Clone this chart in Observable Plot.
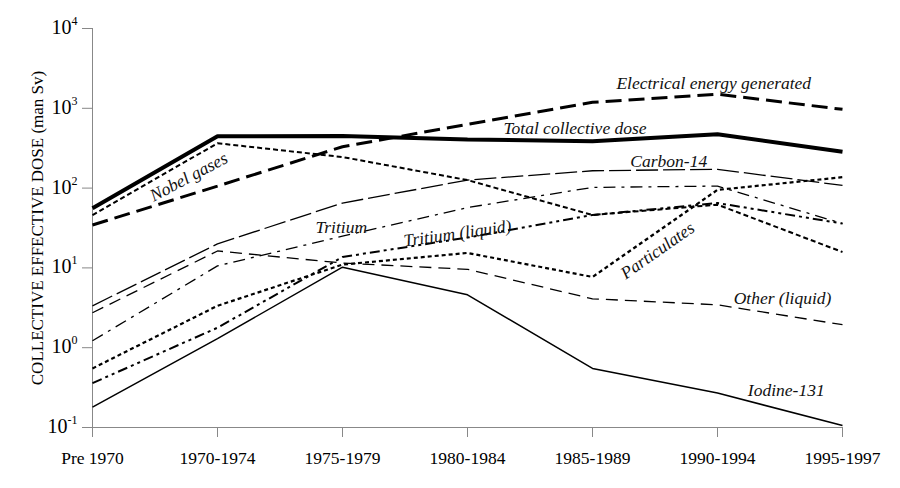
<!DOCTYPE html>
<html><head><meta charset="utf-8">
<script src="https://cdn.jsdelivr.net/npm/d3@7"></script>
<script src="https://cdn.jsdelivr.net/npm/@observablehq/plot@0.6"></script>
<style>
body{margin:0;background:#fff;}
#chart svg, #chart svg text, #chart svg tspan { font-family: "Liberation Serif", "Times New Roman", serif !important; }
</style>
</head><body><div id="chart"></div>
<script>
const periods = ["Pre 1970","1970-1974","1975-1979","1980-1984","1985-1989","1990-1994","1995-1997"];
const totalDose        = [56, 447, 450, 407, 386, 473, 285];
const electricalEnergy = [34.5, 106, 330, 630, 1190, 1500, 970];
const nobelGases       = [46, 365, 245, 126, 46, 62, 15.8];
const carbon14         = [3.35, 20, 65, 126, 165, 172, 108];
const otherLiquid      = [2.74, 16.3, 11.5, 9.6, 4.1, 3.45, 1.94];
const tritium          = [1.22, 10.6, 25, 57, 102, 106, 36];
const tritiumLiquid    = [0.36, 1.78, 13.7, 24, 46, 65, 36];
const particulates     = [0.55, 3.35, 11, 15.4, 7.7, 95, 137];
const iodine131        = [0.18, 1.3, 10.2, 4.6, 0.55, 0.27, 0.106];
const yTicks = [0.1, 1, 10, 100, 1000, 10000];

const labelNames = ["Electrical energy generated","Total collective dose","Carbon-14","Nobel gases","Tritium","Tritium (liquid)","Particulates","Other (liquid)","Iodine-131"];
const labelX     = [4.97, 3.86, 4.61, 0.77, 1.99, 2.92, 4.52, 5.52, 5.55];
const labelY     = [2050, 560, 215, 138, 32, 27, 16.5, 4.2, 0.29];
const labelAngle = [0, 0, 0, -28, 0, -8, -35, 0, 0];

const seriesDefs = [
  {name: "Total collective dose", values: totalDose, width: 4, dash: null},
  {name: "Electrical energy generated", values: electricalEnergy, width: 3, dash: "16,7"},
  {name: "Nobel gases", values: nobelGases, width: 2, dash: "5,3"},
  {name: "Carbon-14", values: carbon14, width: 1.3, dash: "22,5"},
  {name: "Other (liquid)", values: otherLiquid, width: 1.3, dash: "12,7"},
  {name: "Tritium", values: tritium, width: 1.3, dash: "12,6,3,6"},
  {name: "Tritium (liquid)", values: tritiumLiquid, width: 2, dash: "10,4,3,4,3,4"},
  {name: "Particulates", values: particulates, width: 2.2, dash: "4,3"},
  {name: "Iodine-131", values: iodine131, width: 1.5, dash: null}
];

const labels = labelNames.map((t, i) => ({t, x: labelX[i], y: labelY[i], r: labelAngle[i]}));

const lineMarks = seriesDefs.map(s => Plot.line(
  s.values.map((v, i) => ({i, v})),
  {x: "i", y: "v", stroke: "#000", strokeWidth: s.width, strokeDasharray: s.dash || undefined, strokeLinejoin: "miter", strokeLinecap: "butt"}
));

const chart = Plot.plot({
  width: 900, height: 488,
  marginLeft: 92, marginRight: 58, marginTop: 28, marginBottom: 61,
  style: {fontFamily: "Liberation Serif", fontSize: "17.5px", color: "#000", background: "#fff"},
  x: {type: "linear", domain: [0, 6]},
  y: {type: "log", domain: [0.1, 10000]},
  marks: [
    Plot.axisX({ticks: d3.range(periods.length), tickFormat: i => periods[i], tickSize: 10, tickPadding: 14, stroke: "#888", label: null, fontSize: 17.5}),
    Plot.axisY({ticks: yTicks, tickFormat: d => String(Math.round(Math.log10(d))), tickSize: 10, tickPadding: 5, stroke: "#888", label: "COLLECTIVE EFFECTIVE DOSE (man Sv)", labelAnchor: "center", labelArrow: "none", labelOffset: 62, fontSize: 17}),
    Plot.ruleX([0], {stroke: "#888"}),
    Plot.ruleY([0.1], {stroke: "#888"}),
    ...lineMarks,
    Plot.text(labels, {x: "x", y: "y", text: "t", rotate: "r", fontStyle: "italic", fontSize: 17.5, fill: "#111"})
  ]
});
chart.setAttribute("font-family", "Liberation Serif");
document.getElementById("chart").appendChild(chart);

// render y tick labels as 10 with superscript exponent
d3.select(chart).selectAll('g[aria-label="y-axis tick label"] text').each(function() {
  const exp = this.textContent;
  const sel = d3.select(this);
  sel.text(null);
  sel.append("tspan").attr("font-size", "20px").text("10");
  sel.append("tspan").attr("font-size", "12px").attr("dy", "-0.75em").text(exp);
});
</script>
</body></html>
